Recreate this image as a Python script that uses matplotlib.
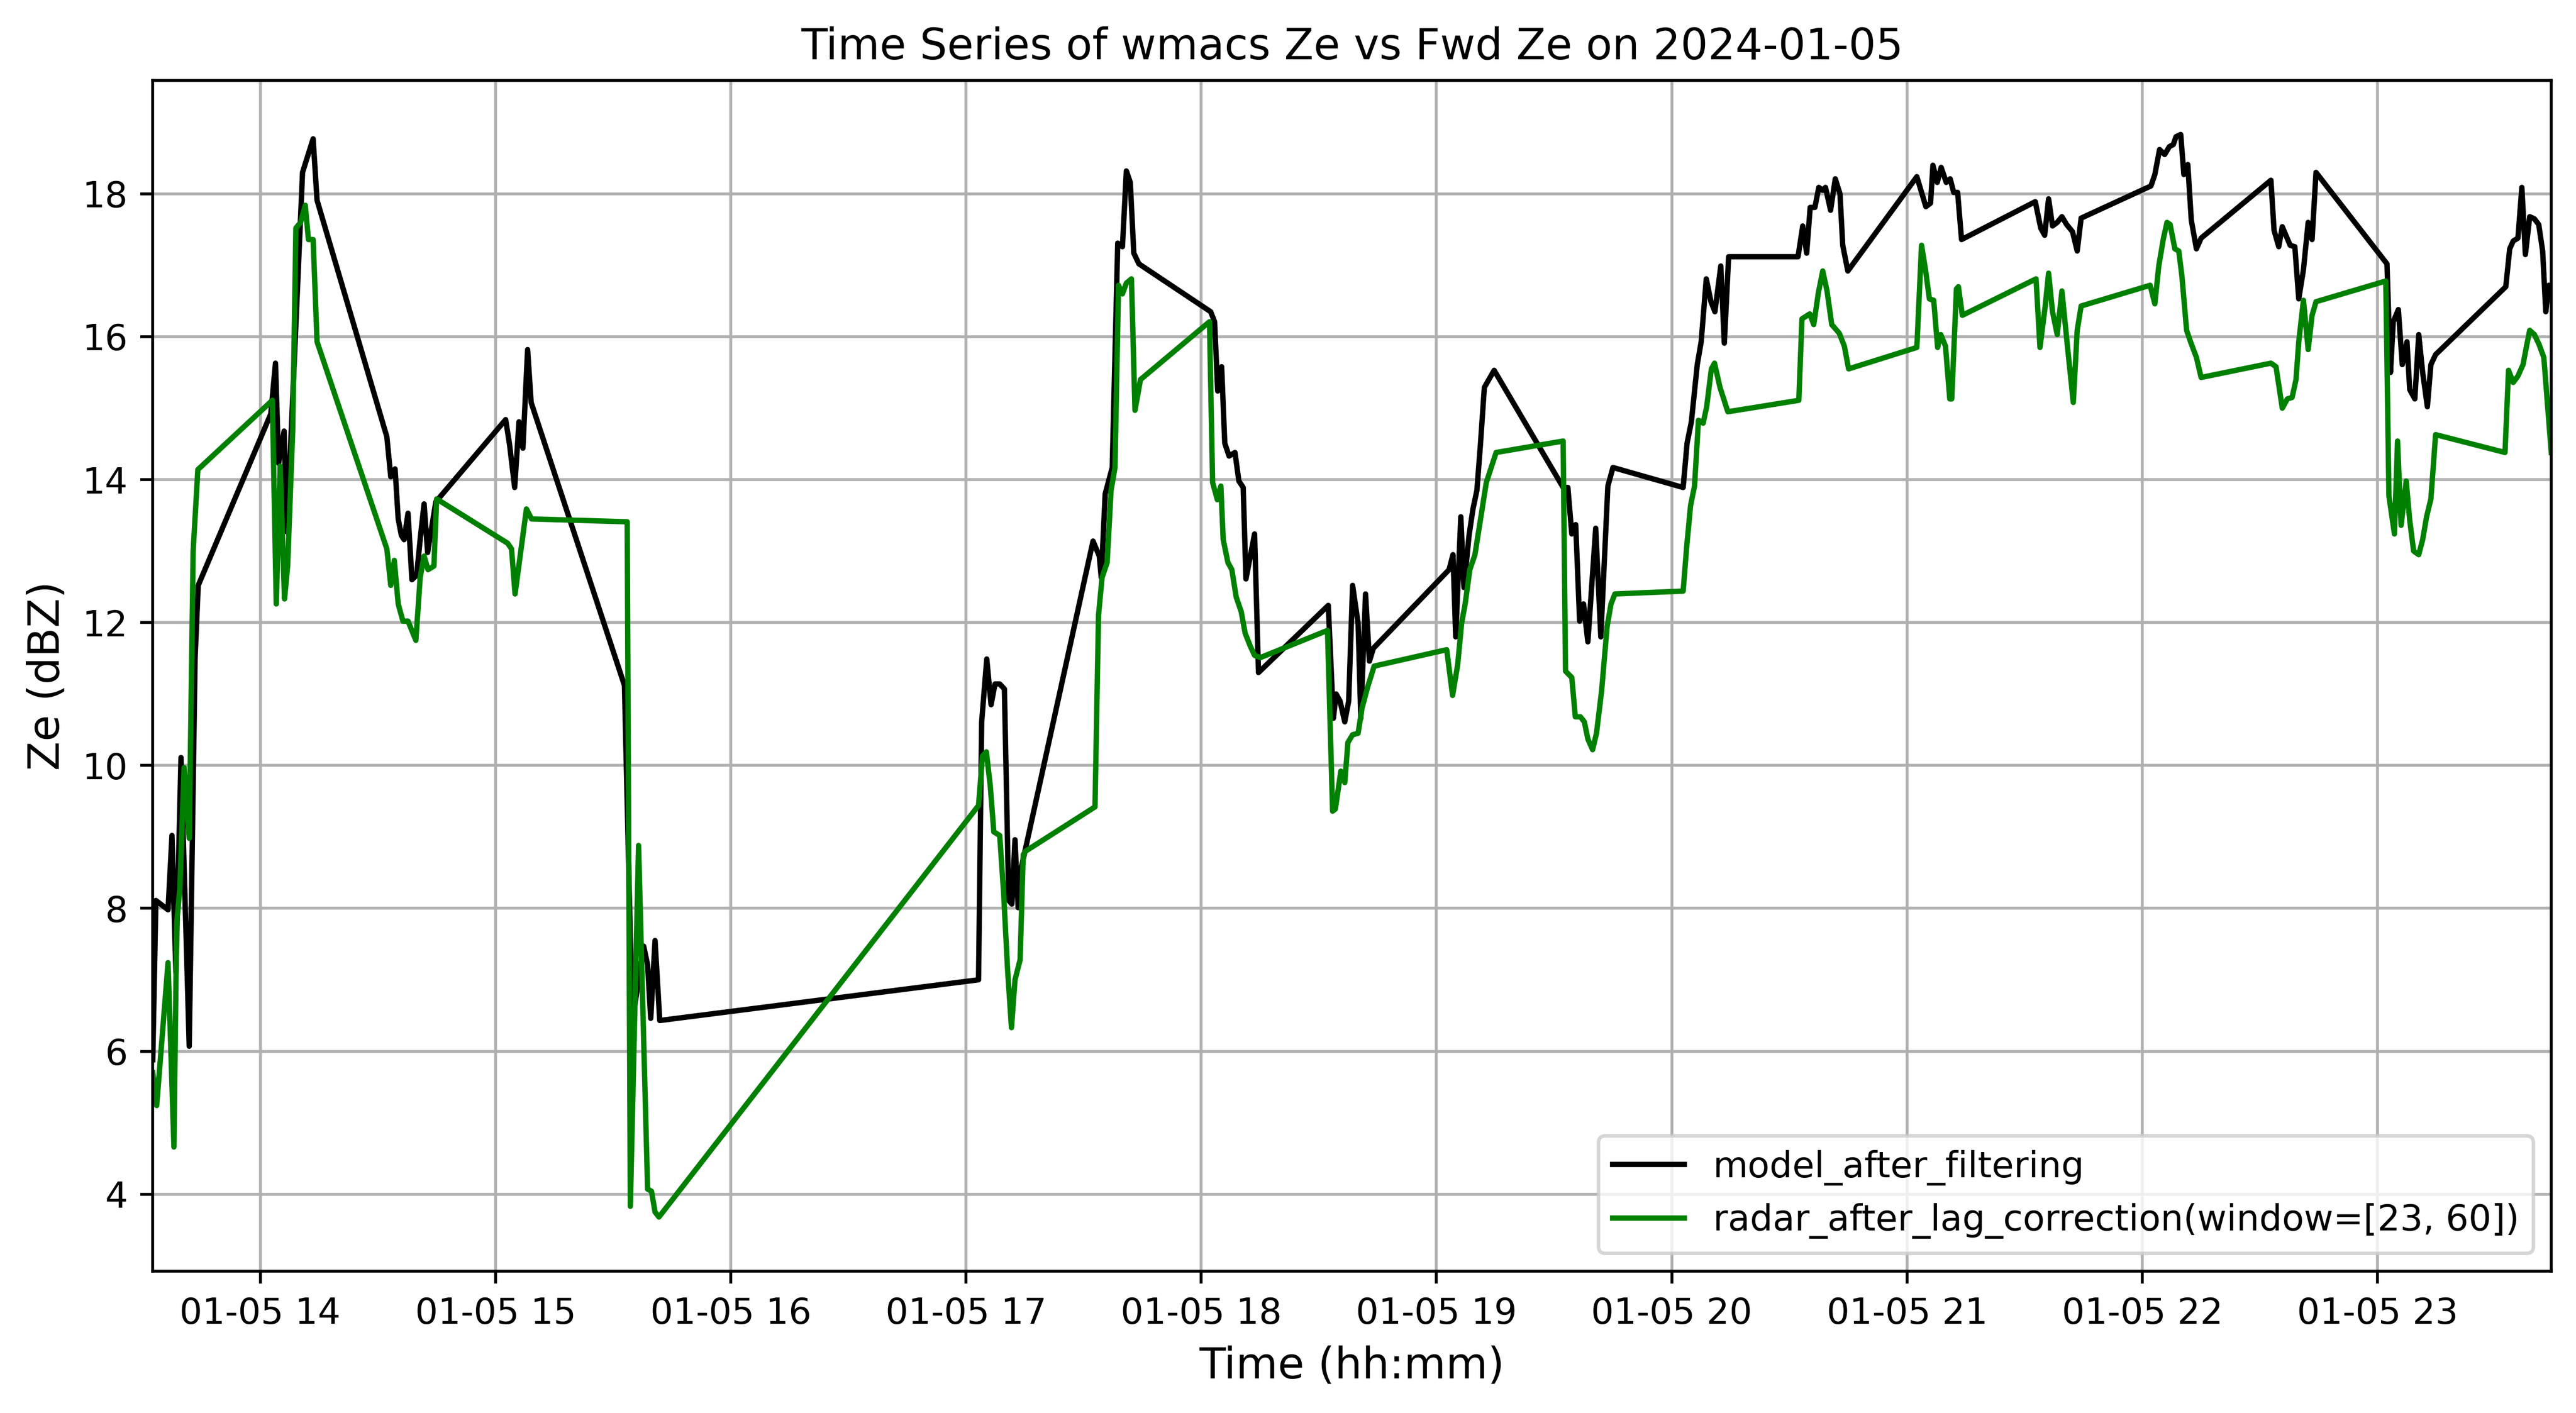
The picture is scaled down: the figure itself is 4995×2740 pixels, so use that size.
import numpy as np
import pandas as pd
import matplotlib
matplotlib.use("Agg")
import matplotlib.pyplot as plt

# date of the series
day = "2024-01-05"

# model Ze (after filtering): minutes after midnight, dBZ
model_minutes = [812.6, 813.4, 816.5, 817.5, 818.5, 819.8, 821.9, 823.4, 824.2,
                 842.7, 843.9, 844.7, 846.1, 846.8, 850.8, 853.5, 854.5,
                 872.3, 873.3, 874.4, 875.2, 876.0, 876.7, 877.7, 878.7, 879.9, 880.9, 881.8, 882.7, 884.8,
                 902.6, 903.6, 904.9, 906.0, 907.0, 908.2, 909.1,
                 932.9, 934.9, 937.8, 938.8, 939.6, 940.7, 941.9,
                 1023.2, 1024.0, 1025.3, 1026.4, 1027.4, 1028.6, 1029.8, 1030.9, 1031.7, 1032.5, 1033.3, 1034.0,
                 1052.4, 1054.0, 1054.5, 1055.5, 1057.3, 1058.7, 1059.9, 1060.9, 1061.9, 1062.8, 1064.1,
                 1082.4, 1083.4, 1084.2, 1085.2, 1086.0, 1087.1, 1088.6, 1089.6, 1090.7, 1091.4, 1093.6, 1094.6,
                 1112.4, 1113.7, 1114.4, 1115.4, 1116.6, 1117.6, 1118.6, 1120.0, 1120.7, 1121.9, 1122.9, 1123.9,
                 1143.2, 1144.2, 1144.9, 1146.2, 1147.0, 1148.3, 1149.3, 1150.3, 1151.2, 1152.2, 1154.7,
                 1172.3, 1173.5, 1174.5, 1175.5, 1176.5, 1177.5, 1178.6, 1180.6, 1181.9, 1183.7, 1185.0,
                 1202.9, 1203.9, 1205.0, 1205.8, 1206.5, 1207.5, 1208.8, 1210.0, 1211.0, 1212.5, 1213.4, 1214.5,
                 1232.2, 1233.4, 1234.4, 1235.3, 1236.5, 1237.5, 1238.5, 1239.2, 1240.5, 1241.7, 1242.9, 1243.6, 1244.9,
                 1262.5, 1264.8, 1266.0, 1266.6, 1267.7, 1268.7, 1270.0, 1271.0, 1271.9, 1272.9, 1273.9,
                 1292.7, 1294.1, 1295.1, 1296.1, 1297.1, 1298.3, 1299.5, 1300.7, 1302.2, 1303.4, 1304.4,
                 1322.2, 1323.2, 1324.4, 1325.7, 1326.9, 1327.9, 1328.6, 1329.8, 1330.6, 1331.6, 1332.5, 1333.8, 1335.0,
                 1352.8, 1353.6, 1354.8, 1355.7, 1357.7, 1358.9, 1359.9, 1361.1, 1362.3, 1363.3, 1364.3,
                 1382.4, 1383.3, 1384.0, 1385.3, 1386.3, 1387.5, 1388.2, 1389.5, 1390.5, 1391.5, 1392.7, 1393.6, 1394.8,
                 1412.7, 1413.7, 1414.6, 1415.8, 1416.8, 1417.7, 1418.8, 1420.0, 1421.1, 1422.1, 1422.9, 1423.7, 1424.3]
model_ze = [5.88, 8.11, 7.98, 9.02, 7.10, 10.11, 6.07, 11.51, 12.52,
            14.92, 15.63, 14.23, 14.68, 13.27, 18.30, 18.77, 17.91,
            14.60, 14.04, 14.15, 13.45, 13.22, 13.16, 13.53, 12.60, 12.66, 13.22, 13.66, 12.98, 13.69,
            14.84, 14.49, 13.89, 14.81, 14.44, 15.82, 15.08,
            11.12, 6.41, 7.47, 7.21, 6.46, 7.55, 6.43,
            7.00, 10.61, 11.49, 10.85, 11.14, 11.14, 11.07, 8.11, 8.06, 8.96, 8.01, 8.54,
            13.14, 12.93, 12.63, 13.80, 14.17, 17.31, 17.26, 18.32, 18.16, 17.17, 17.02,
            16.35, 16.21, 15.24, 15.58, 14.51, 14.33, 14.38, 13.98, 13.89, 12.61, 13.24, 11.30,
            12.24, 10.66, 11.00, 10.90, 10.61, 10.90, 12.52, 11.99, 10.66, 12.40, 11.46, 11.64,
            12.74, 12.95, 11.80, 13.48, 12.49, 13.22, 13.59, 13.85, 14.49, 15.29, 15.53,
            13.89, 13.89, 13.24, 13.37, 12.02, 12.26, 11.73, 13.32, 11.80, 13.91, 14.17,
            13.89, 14.51, 14.81, 15.24, 15.61, 15.93, 16.81, 16.49, 16.35, 16.99, 15.91, 17.12,
            17.12, 17.55, 17.17, 17.81, 17.81, 18.09, 18.05, 18.09, 17.77, 18.21, 18.00, 17.28, 16.92,
            18.24, 17.82, 17.87, 18.40, 18.16, 18.37, 18.16, 18.21, 18.02, 18.02, 17.36,
            17.89, 17.52, 17.42, 17.93, 17.55, 17.60, 17.68, 17.57, 17.47, 17.20, 17.66,
            18.11, 18.27, 18.62, 18.55, 18.66, 18.69, 18.80, 18.83, 18.27, 18.41, 17.63, 17.23, 17.38,
            18.19, 17.49, 17.26, 17.54, 17.28, 17.26, 16.53, 16.94, 17.60, 17.36, 18.30,
            17.02, 15.50, 16.21, 16.38, 15.61, 15.93, 15.26, 15.13, 16.03, 15.50, 15.02, 15.61, 15.75,
            16.70, 17.23, 17.34, 17.38, 18.09, 17.15, 17.68, 17.65, 17.57, 17.20, 16.35, 16.72, 16.70]

# radar Ze after lag correction: minutes after midnight, dBZ
radar_minutes = [812.6, 813.6, 816.5, 818.0, 818.7, 819.5, 820.6, 821.9, 822.9, 824.1,
                 843.1, 844.1, 845.1, 846.2, 847.0, 848.3, 849.1, 850.3, 851.5, 852.3, 853.5, 854.5,
                 872.3, 873.3, 874.2, 875.2, 876.4, 877.7, 879.7, 880.8, 881.8, 882.8, 884.3, 885.0,
                 903.1, 904.1, 905.0, 907.9, 909.2,
                 933.6, 934.4, 936.5, 938.8, 939.8, 940.7, 941.7,
                 1023.2, 1024.2, 1025.2, 1026.2, 1027.1, 1028.6, 1029.6, 1030.6, 1031.6, 1032.5, 1033.8, 1034.6, 1035.2,
                 1052.9, 1053.8, 1054.7, 1056.0, 1057.0, 1058.0, 1058.9, 1059.9, 1060.9, 1062.2, 1063.1, 1064.5,
                 1082.1, 1082.9, 1084.1, 1085.0, 1085.6, 1086.8, 1087.8, 1088.9, 1090.2, 1091.2, 1092.5, 1093.6, 1095.1,
                 1112.2, 1113.5, 1114.2, 1115.6, 1116.6, 1117.4, 1118.6, 1120.0, 1121.0, 1122.4, 1124.1,
                 1142.6, 1144.1, 1145.4, 1146.4, 1147.3, 1148.5, 1149.8, 1152.7, 1155.2,
                 1172.3, 1172.9, 1174.5, 1175.4, 1176.7, 1177.7, 1178.6, 1179.8, 1180.8, 1182.1, 1183.5, 1184.5, 1185.5,
                 1202.9, 1203.8, 1204.8, 1205.8, 1206.8, 1208.0, 1208.9, 1210.1, 1210.9, 1212.3, 1214.3,
                 1232.4, 1233.2, 1235.2, 1236.2, 1237.4, 1238.5, 1239.6, 1240.8, 1242.7, 1244.0, 1245.1,
                 1262.5, 1263.7, 1264.7, 1265.7, 1266.8, 1267.8, 1268.6, 1269.8, 1270.9, 1271.4, 1272.6, 1273.1, 1274.1,
                 1292.9, 1293.9, 1295.2, 1296.1, 1297.1, 1298.3, 1299.5, 1300.9, 1302.4, 1303.4, 1304.4,
                 1322.0, 1323.2, 1324.2, 1325.4, 1326.3, 1327.1, 1328.3, 1329.3, 1330.1, 1331.3, 1332.3, 1333.8, 1335.0,
                 1352.8, 1354.1, 1355.7, 1357.0, 1358.2, 1359.2, 1359.9, 1361.1, 1362.3, 1363.3, 1364.3,
                 1382.1, 1382.9, 1384.3, 1385.1, 1386.0, 1387.3, 1388.2, 1389.2, 1390.5, 1391.5, 1392.5, 1393.6, 1394.8,
                 1412.5, 1413.4, 1414.6, 1415.8, 1417.1, 1418.0, 1418.8, 1420.0, 1421.2, 1422.4, 1424.3]
radar_ze = [5.70, 5.24, 7.24, 4.66, 7.79, 8.27, 9.97, 8.98, 13.00, 14.14,
            15.11, 12.26, 14.19, 12.33, 12.79, 14.70, 17.52, 17.60, 17.84, 17.36, 17.36, 15.93,
            13.03, 12.52, 12.87, 12.26, 12.02, 12.02, 11.75, 12.63, 12.93, 12.74, 12.79, 13.73,
            13.11, 13.03, 12.40, 13.59, 13.45,
            13.41, 3.83, 8.88, 4.07, 4.04, 3.75, 3.68,
            9.44, 10.13, 10.19, 9.71, 9.07, 9.02, 8.22, 7.15, 6.33, 7.00, 7.28, 8.75, 8.80,
            9.42, 12.10, 12.63, 12.84, 13.85, 14.17, 16.72, 16.60, 16.75, 16.81, 14.97, 15.40,
            16.21, 13.96, 13.72, 13.91, 13.16, 12.84, 12.74, 12.36, 12.15, 11.85, 11.67, 11.54, 11.51,
            11.89, 9.36, 9.39, 9.92, 9.76, 10.32, 10.43, 10.45, 10.80, 11.09, 11.39,
            11.62, 10.98, 11.41, 11.99, 12.26, 12.74, 12.95, 13.96, 14.38,
            14.54, 11.32, 11.23, 10.68, 10.68, 10.61, 10.37, 10.22, 10.45, 11.04, 11.94, 12.26, 12.40,
            12.44, 13.06, 13.64, 13.91, 14.83, 14.79, 15.02, 15.55, 15.63, 15.29, 14.95,
            15.11, 16.25, 16.32, 16.17, 16.62, 16.92, 16.64, 16.17, 16.05, 15.87, 15.55,
            15.85, 17.28, 16.94, 16.53, 16.51, 15.85, 16.03, 15.87, 15.13, 15.13, 16.67, 16.70, 16.30,
            16.81, 15.85, 16.41, 16.89, 16.35, 16.03, 16.64, 15.87, 15.08, 16.09, 16.43,
            16.72, 16.46, 16.99, 17.38, 17.60, 17.57, 17.23, 17.20, 16.85, 16.09, 15.93, 15.71, 15.43,
            15.63, 15.58, 15.00, 15.13, 15.15, 15.40, 15.93, 16.51, 15.82, 16.30, 16.49,
            16.78, 13.77, 13.24, 14.54, 13.36, 13.98, 13.43, 13.00, 12.95, 13.16, 13.48, 13.73, 14.63,
            14.38, 15.53, 15.36, 15.45, 15.61, 15.87, 16.09, 16.03, 15.89, 15.71, 14.38]

model_label = "model_after_filtering"
radar_label = "radar_after_lag_correction(window=[23, 60])"

t0 = pd.Timestamp(day)
model_time = t0 + pd.to_timedelta(np.array(model_minutes), unit="min")
radar_time = t0 + pd.to_timedelta(np.array(radar_minutes), unit="min")

fig = plt.figure(figsize=(9.99, 5.48), dpi=500)
plt.subplots_adjust(left=0.0593, right=0.9904, bottom=0.1004, top=0.9431)

plt.plot(model_time, model_ze, color="black", label=model_label)
plt.plot(radar_time, radar_ze, color="green", label=radar_label)

plt.xlim(min(model_time.min(), radar_time.min()), max(model_time.max(), radar_time.max()))
plt.title(f"Time Series of wmacs Ze vs Fwd Ze on {day}")
plt.xlabel("Time (hh:mm)", fontsize=12)
plt.ylabel("Ze (dBZ)", fontsize=12)
plt.legend(loc="lower right")
plt.grid(True)

plt.savefig("out.png", dpi=500)
